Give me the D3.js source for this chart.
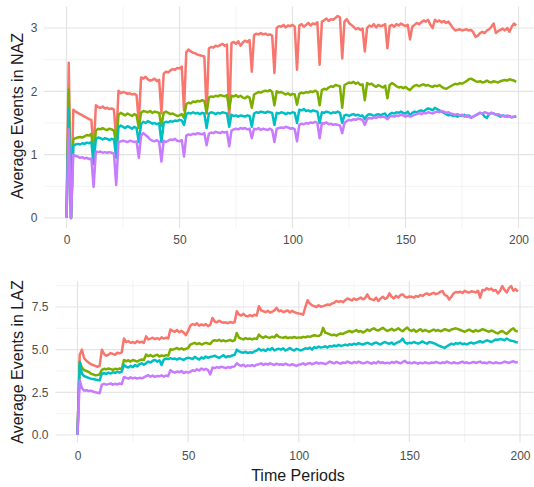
<!DOCTYPE html>
<html>
<head>
<meta charset="utf-8">
<script src="https://cdn.jsdelivr.net/npm/d3@7"></script>
<style>
  html, body { margin: 0; padding: 0; background: #fff; }
  svg { display: block; font-family: "Liberation Sans", Arial, sans-serif; }
</style>
</head>
<body>
<svg id="chart" width="534" height="487"></svg>
<script>
// Group colours (ggplot default hue palette, 4 levels)
const groupColors = ["#F8766D", "#7CAE00", "#00BFC4", "#C77CFF"];

// Tick values
const xTicks = [0, 50, 100, 150, 200];
const xMinor = [25, 75, 125, 175];
const nazTicks = [0, 1, 2, 3];
const nazMinor = [0.5, 1.5, 2.5];
const lazTicks = [0, 2.5, 5, 7.5];
const lazMinor = [1.25, 3.75, 6.25, 8.75];

// Average events in NAZ, one value per time period 0..199
const nazA = [
  0, 2.45, 0, 1.71, 1.68, 1.66, 1.64, 1.62, 1.60, 1.58,
  1.56, 1.55, 1.05, 1.78, 1.75, 1.74, 1.76, 1.73, 1.74, 1.72,
  1.73, 1.71, 1.22, 2.01, 1.97, 1.99, 1.98, 1.96, 1.97, 1.95,
  1.96, 1.94, 1.50, 2.22, 2.20, 2.23, 2.19, 2.17, 2.18, 2.20,
  2.16, 2.18, 1.65, 2.28, 2.31, 2.30, 2.33, 2.35, 2.34, 2.37,
  2.36, 2.39, 1.70, 2.62, 2.66, 2.63, 2.61, 2.60, 2.58, 2.57,
  2.56, 2.55, 1.65, 2.68, 2.70, 2.69, 2.72, 2.71, 2.73, 2.75,
  2.72, 2.74, 1.50, 2.76, 2.78, 2.75, 2.79, 2.72, 2.77, 2.80,
  2.78, 2.81, 2.31, 2.89, 2.91, 2.90, 2.92, 2.90, 2.91, 2.89,
  2.90, 2.88, 2.29, 3.00, 3.03, 3.02, 3.05, 3.01, 3.04, 3.03,
  3.05, 3.02, 2.34, 3.04, 3.06, 3.02, 3.05, 3.08, 3.04, 3.07,
  3.06, 3.09, 2.42, 3.10, 3.12, 3.15, 3.11, 3.14, 3.13, 3.16,
  3.19, 3.17, 2.52, 3.10, 3.14, 3.08, 3.05, 3.02, 2.98, 3.00,
  2.97, 2.99, 2.63, 3.00, 3.04, 3.02, 3.06, 3.01, 3.05, 3.03,
  3.04, 3.06, 2.68, 3.03, 3.05, 3.02, 3.06, 3.04, 3.07, 3.05,
  3.03, 3.05, 2.82, 3.02, 3.05, 3.08, 3.06, 3.09, 3.12, 3.10,
  3.13, 3.05, 3.00, 3.13, 3.10, 3.12, 3.09, 3.11, 3.08, 3.10,
  3.05, 3.00, 2.96, 2.97, 2.98, 2.96, 2.97, 2.98, 2.96, 2.97,
  2.93, 2.86, 2.88, 2.92, 2.94, 2.92, 2.96, 2.98, 3.02, 3.07,
  2.92, 2.95, 2.97, 2.99, 2.96, 3.00, 2.94, 3.02, 3.07, 3.04
];
const nazB = [
  0, 2.03, 0, 1.24, 1.26, 1.27, 1.28, 1.27, 1.29, 1.31,
  1.30, 1.33, 0.98, 1.38, 1.41, 1.40, 1.42, 1.40, 1.39, 1.41,
  1.40, 1.38, 1.15, 1.63, 1.66, 1.64, 1.62, 1.65, 1.63, 1.61,
  1.64, 1.62, 1.42, 1.66, 1.69, 1.68, 1.67, 1.69, 1.66, 1.68,
  1.67, 1.66, 1.45, 1.66, 1.68, 1.66, 1.64, 1.65, 1.63, 1.61,
  1.62, 1.64, 1.58, 1.80, 1.82, 1.81, 1.84, 1.83, 1.85, 1.84,
  1.86, 1.85, 1.66, 1.90, 1.92, 1.91, 1.93, 1.92, 1.94, 1.93,
  1.92, 1.94, 1.72, 1.93, 1.92, 1.94, 1.91, 1.93, 1.90, 1.89,
  1.92, 1.90, 1.74, 1.95, 1.97, 1.99, 1.98, 2.00, 2.01, 2.00,
  2.02, 1.99, 1.78, 2.00, 1.98, 1.99, 1.97, 1.95, 1.97, 1.94,
  1.96, 1.95, 1.79, 1.96, 1.98, 1.97, 1.99, 1.98, 2.00, 1.99,
  2.01, 1.99, 1.78, 2.02, 2.04, 2.03, 2.06, 2.08, 2.07, 2.10,
  2.09, 2.08, 1.74, 2.10, 2.12, 2.14, 2.13, 2.15, 2.12, 2.14,
  2.10, 2.11, 1.86, 2.13, 2.11, 2.12, 2.09, 2.07, 2.10, 2.08,
  2.06, 2.09, 1.89, 2.10, 2.13, 2.11, 2.08, 2.06, 2.07, 2.05,
  2.07, 2.04, 2.02, 2.06, 2.09, 2.10, 2.08, 2.10, 2.11, 2.09,
  2.10, 2.08, 2.07, 2.09, 2.08, 2.10, 2.07, 2.05, 2.04, 2.06,
  2.08, 2.10, 2.12, 2.11, 2.13, 2.12, 2.14, 2.16, 2.19, 2.20,
  2.18, 2.16, 2.15, 2.16, 2.14, 2.15, 2.17, 2.15, 2.14, 2.16,
  2.15, 2.14, 2.16, 2.17, 2.18, 2.17, 2.19, 2.18, 2.17, 2.15
];
const nazC = [
  0, 1.73, 0, 1.14, 1.16, 1.17, 1.16, 1.18, 1.17, 1.19,
  1.18, 1.20, 0.85, 1.25, 1.27, 1.26, 1.24, 1.26, 1.25, 1.23,
  1.25, 1.24, 0.95, 1.43, 1.46, 1.44, 1.42, 1.45, 1.43, 1.41,
  1.44, 1.42, 1.20, 1.48, 1.52, 1.50, 1.53, 1.51, 1.49, 1.50,
  1.48, 1.50, 1.20, 1.50, 1.52, 1.51, 1.53, 1.52, 1.54, 1.53,
  1.55, 1.54, 1.47, 1.64, 1.66, 1.65, 1.67, 1.65, 1.66, 1.64,
  1.66, 1.65, 1.42, 1.65, 1.67, 1.66, 1.64, 1.66, 1.65, 1.67,
  1.66, 1.65, 1.44, 1.63, 1.61, 1.62, 1.60, 1.62, 1.61, 1.60,
  1.62, 1.61, 1.44, 1.65, 1.67, 1.66, 1.68, 1.67, 1.66, 1.68,
  1.67, 1.66, 1.47, 1.66, 1.65, 1.67, 1.66, 1.64, 1.66, 1.65,
  1.67, 1.66, 1.50, 1.71, 1.70, 1.72, 1.69, 1.70, 1.68, 1.70,
  1.69, 1.68, 1.50, 1.67, 1.66, 1.68, 1.67, 1.65, 1.67, 1.66,
  1.68, 1.66, 1.50, 1.62, 1.63, 1.61, 1.63, 1.64, 1.62, 1.63,
  1.61, 1.62, 1.56, 1.62, 1.64, 1.63, 1.61, 1.63, 1.64, 1.62,
  1.64, 1.65, 1.58, 1.64, 1.66, 1.65, 1.67, 1.66, 1.68, 1.66,
  1.65, 1.68, 1.62, 1.66, 1.68, 1.67, 1.69, 1.70, 1.68, 1.71,
  1.73, 1.72, 1.70, 1.74, 1.72, 1.70, 1.68, 1.66, 1.64, 1.62,
  1.63, 1.61, 1.62, 1.60, 1.62, 1.61, 1.63, 1.60, 1.62, 1.59,
  1.60, 1.62, 1.64, 1.66, 1.65, 1.60, 1.58, 1.64, 1.66, 1.65,
  1.63, 1.62, 1.60, 1.62, 1.61, 1.60, 1.61, 1.59, 1.60, 1.60
];
const nazD = [
  0, 1.40, 0, 1.00, 0.98, 0.97, 0.95, 0.96, 0.94, 0.95,
  0.93, 0.94, 0.49, 1.05, 1.04, 1.05, 1.03, 1.04, 1.03, 1.04,
  1.03, 1.02, 0.52, 1.20, 1.21, 1.22, 1.21, 1.20, 1.22, 1.21,
  1.20, 1.21, 0.95, 1.30, 1.34, 1.31, 1.28, 1.24, 1.22, 1.21,
  1.23, 1.20, 0.89, 1.22, 1.20, 1.22, 1.24, 1.23, 1.25, 1.22,
  1.21, 1.23, 0.97, 1.30, 1.32, 1.31, 1.33, 1.32, 1.34, 1.33,
  1.32, 1.34, 1.15, 1.33, 1.35, 1.34, 1.36, 1.35, 1.34, 1.36,
  1.35, 1.36, 1.13, 1.38, 1.40, 1.41, 1.40, 1.42, 1.41, 1.42,
  1.40, 1.41, 1.26, 1.41, 1.40, 1.42, 1.39, 1.41, 1.40, 1.39,
  1.41, 1.39, 1.20, 1.41, 1.42, 1.43, 1.42, 1.44, 1.43, 1.41,
  1.42, 1.40, 1.21, 1.47, 1.49, 1.48, 1.50, 1.49, 1.51, 1.50,
  1.52, 1.50, 1.26, 1.50, 1.49, 1.51, 1.48, 1.49, 1.47, 1.48,
  1.47, 1.46, 1.34, 1.50, 1.53, 1.55, 1.54, 1.56, 1.55, 1.57,
  1.56, 1.55, 1.47, 1.56, 1.58, 1.57, 1.59, 1.58, 1.60, 1.59,
  1.60, 1.59, 1.56, 1.60, 1.61, 1.60, 1.62, 1.61, 1.63, 1.62,
  1.60, 1.62, 1.60, 1.61, 1.63, 1.64, 1.66, 1.64, 1.66, 1.65,
  1.67, 1.66, 1.65, 1.67, 1.68, 1.67, 1.69, 1.68, 1.66, 1.67,
  1.65, 1.64, 1.63, 1.64, 1.62, 1.63, 1.60, 1.62, 1.60, 1.58,
  1.60, 1.62, 1.64, 1.66, 1.65, 1.67, 1.66, 1.64, 1.66, 1.65,
  1.63, 1.64, 1.62, 1.61, 1.60, 1.62, 1.60, 1.59, 1.60, 1.61
];

// Average events in LAZ, one value per time period 0..199
const lazA = [
  0, 4.70, 5.00, 4.50, 4.35, 4.25, 4.15, 4.10, 4.05, 4.00,
  4.05, 5.00, 4.75, 4.65, 4.70, 4.80, 4.75, 4.70, 4.82, 4.78,
  4.85, 5.65, 5.45, 5.50, 5.40, 5.45, 5.38, 5.50, 5.42, 5.47,
  5.40, 5.78, 5.60, 5.65, 5.70, 5.62, 5.68, 5.60, 5.72, 5.65,
  5.70, 5.66, 6.18, 6.10, 6.05, 6.15, 6.02, 6.10, 6.00, 5.85,
  6.10, 6.40, 6.50, 6.45, 6.55, 6.40, 6.48, 6.42, 6.50, 6.38,
  6.45, 6.86, 6.65, 6.60, 6.70, 6.62, 6.58, 6.60, 6.55, 6.62,
  6.58, 6.60, 7.25, 7.05, 7.00, 7.10, 6.98, 6.95, 7.02, 6.96,
  7.05, 7.00, 7.55, 7.30, 7.25, 7.20, 7.28, 7.18, 7.22, 7.30,
  7.45, 7.25, 7.30, 7.20, 7.25, 7.30, 7.18, 7.28, 7.20, 7.15,
  7.12, 7.10, 7.05, 7.50, 7.90, 7.70, 7.60, 7.55, 7.50, 7.60,
  7.52, 7.55, 7.60, 7.65, 7.62, 7.70, 7.75, 7.85, 7.80, 7.84,
  7.78, 7.90, 8.00, 7.95, 7.88, 8.00, 7.92, 7.98, 8.05, 7.95,
  8.02, 8.24, 8.00, 7.95, 7.90, 8.05, 7.85, 8.00, 8.10, 7.98,
  8.05, 8.30, 8.10, 8.00, 8.15, 8.05, 8.20, 8.24, 8.10, 8.05,
  8.12, 8.10, 8.05, 8.14, 8.10, 8.20, 8.15, 8.25, 8.30, 8.20,
  8.28, 8.33, 8.25, 8.30, 8.40, 8.43, 8.20, 8.15, 7.94, 8.10,
  8.30, 8.38, 8.35, 8.40, 8.32, 8.45, 8.38, 8.35, 8.42, 8.40,
  8.35, 8.45, 8.05, 8.50, 8.48, 8.60, 8.52, 8.58, 8.45, 8.50,
  8.30, 8.45, 8.73, 8.50, 8.35, 8.60, 8.73, 8.45, 8.55, 8.40
];
const lazB = [
  0, 4.30, 3.95, 3.80, 3.75, 3.70, 3.60, 3.55, 3.50, 3.52,
  3.55, 3.82, 3.88, 3.85, 3.90, 3.86, 3.82, 3.88, 3.85, 3.90,
  3.87, 4.40, 4.32, 4.38, 4.30, 4.40, 4.35, 4.30, 4.38, 4.42,
  4.40, 4.72, 4.62, 4.68, 4.60, 4.65, 4.70, 4.60, 4.66, 4.62,
  4.68, 4.65, 5.02, 5.00, 5.05, 5.10, 5.02, 5.08, 5.00, 5.05,
  5.10, 5.30, 5.35, 5.40, 5.32, 5.38, 5.30, 5.35, 5.40, 5.36,
  5.33, 5.50, 5.55, 5.52, 5.58, 5.50, 5.55, 5.49, 5.53, 5.57,
  5.50, 5.55, 5.98, 5.70, 5.65, 5.60, 5.68, 5.62, 5.65, 5.60,
  5.66, 5.62, 5.88, 5.75, 5.70, 5.78, 5.72, 5.70, 5.76, 5.72,
  5.88, 5.75, 5.72, 5.70, 5.75, 5.68, 5.72, 5.70, 5.74, 5.69,
  5.72, 5.70, 5.75, 5.72, 5.78, 5.75, 5.80, 5.85, 5.82, 5.80,
  5.88, 6.28, 6.00, 5.95, 5.90, 5.85, 5.88, 5.82, 5.90, 5.95,
  5.92, 6.00, 6.05, 6.10, 6.02, 6.08, 6.15, 6.05, 6.10, 6.00,
  6.08, 6.18, 6.10, 6.20, 6.25, 6.15, 6.12, 6.20, 6.28, 6.18,
  6.10, 6.15, 6.22, 6.12, 6.18, 6.25, 6.15, 6.08, 6.20, 6.30,
  6.15, 6.10, 6.18, 6.05, 6.12, 6.20, 6.08, 6.15, 6.10, 6.05,
  6.12, 6.18, 6.10, 6.15, 6.08, 6.12, 6.20, 6.15, 6.10, 6.18,
  6.22, 6.25, 6.20, 6.15, 6.10, 6.05, 6.12, 6.18, 6.10, 6.05,
  6.15, 6.08, 6.12, 6.20, 6.15, 6.10, 6.05, 6.12, 6.08, 6.00,
  5.95, 6.05, 6.10, 6.00, 5.92, 6.05, 6.18, 6.25, 6.10, 6.08
];
const lazC = [
  0, 4.25, 3.60, 3.45, 3.40, 3.35, 3.30, 3.28, 3.25, 3.22,
  3.20, 3.60, 3.62, 3.58, 3.65, 3.60, 3.68, 3.64, 3.70, 3.66,
  3.72, 4.10, 4.00, 3.95, 4.05, 3.98, 4.10, 4.02, 4.15, 4.20,
  4.12, 4.20, 4.30, 4.25, 4.35, 4.40, 4.30, 4.38, 4.10, 4.42,
  4.48, 4.45, 4.50, 4.45, 4.48, 4.42, 4.50, 4.45, 4.40, 4.48,
  4.52, 4.50, 4.45, 4.58, 4.50, 4.42, 4.55, 4.48, 4.60, 4.52,
  4.58, 4.60, 4.65, 4.58, 4.52, 4.60, 4.68, 4.55, 4.62, 4.60,
  4.66, 4.70, 5.00, 4.90, 4.85, 4.82, 4.88, 4.80, 4.85, 4.82,
  4.90, 4.95, 5.05, 4.95, 5.00, 4.92, 5.05, 4.98, 5.10, 4.95,
  5.02, 5.05, 5.00, 5.08, 4.95, 5.02, 5.10, 5.00, 4.95, 5.05,
  5.00, 4.95, 5.02, 5.08, 5.05, 5.12, 5.00, 5.15, 5.10, 5.18,
  5.12, 5.15, 5.20, 5.12, 5.22, 5.18, 5.25, 5.20, 5.28, 5.22,
  5.25, 5.30, 5.25, 5.32, 5.28, 5.35, 5.30, 5.38, 5.33, 5.30,
  5.36, 5.40, 5.35, 5.30, 5.38, 5.42, 5.35, 5.30, 5.40, 5.45,
  5.38, 5.35, 5.42, 5.30, 5.38, 5.45, 5.50, 5.65, 5.42, 5.35,
  5.40, 5.38, 5.45, 5.40, 5.35, 5.42, 5.48, 5.40, 5.35, 5.45,
  5.42, 5.38, 5.32, 5.25, 5.20, 5.15, 5.10, 5.20, 5.28, 5.35,
  5.30, 5.38, 5.35, 5.40, 5.32, 5.36, 5.30, 5.38, 5.42, 5.35,
  5.40, 5.45, 5.50, 5.42, 5.48, 5.55, 5.50, 5.45, 5.52, 5.60,
  5.58, 5.62, 5.60, 5.55, 5.65, 5.58, 5.52, 5.50, 5.45, 5.42
];
const lazD = [
  0, 3.20, 2.75, 2.60, 2.62, 2.58, 2.60, 2.55, 2.50, 2.48,
  2.45, 2.95, 3.00, 2.95, 2.98, 3.02, 2.95, 3.00, 2.96, 3.02,
  2.98, 3.40, 3.35, 3.30, 3.38, 3.32, 3.36, 3.30, 3.35, 3.32,
  3.38, 3.45, 3.50, 3.42, 3.48, 3.40, 3.46, 3.44, 3.50, 3.42,
  3.48, 3.45, 3.80, 3.70, 3.65, 3.72, 3.68, 3.75, 3.63, 3.70,
  3.65, 3.70, 3.80, 3.75, 3.85, 3.78, 3.90, 3.82, 3.88, 3.80,
  3.55, 3.95, 3.92, 3.98, 3.94, 4.00, 3.96, 3.92, 3.98, 3.94,
  4.00, 4.02, 4.20, 4.10, 4.05, 4.12, 4.02, 4.08, 4.05, 4.10,
  4.04, 4.12, 4.15, 4.20, 4.10, 4.18, 4.12, 4.20, 4.15, 4.10,
  4.18, 4.12, 4.15, 4.10, 4.18, 4.12, 4.08, 4.15, 4.10, 4.05,
  4.12, 4.15, 4.20, 4.12, 4.18, 4.22, 4.15, 4.20, 4.25, 4.18,
  4.22, 4.20, 4.15, 4.22, 4.30, 4.25, 4.20, 4.28, 4.22, 4.18,
  4.25, 4.22, 4.30, 4.25, 4.20, 4.28, 4.22, 4.30, 4.25, 4.20,
  4.22, 4.28, 4.22, 4.18, 4.25, 4.20, 4.30, 4.22, 4.26, 4.20,
  4.24, 4.20, 4.28, 4.22, 4.30, 4.25, 4.20, 4.28, 4.35, 4.22,
  4.25, 4.20, 4.26, 4.22, 4.18, 4.24, 4.20, 4.26, 4.22, 4.20,
  4.25, 4.22, 4.28, 4.24, 4.20, 4.26, 4.22, 4.30, 4.24, 4.20,
  4.26, 4.22, 4.20, 4.25, 4.30, 4.22, 4.26, 4.20, 4.24, 4.28,
  4.22, 4.26, 4.30, 4.22, 4.25, 4.20, 4.28, 4.24, 4.20, 4.26,
  4.22, 4.20, 4.24, 4.30, 4.26, 4.22, 4.28, 4.32, 4.25, 4.28
];

const svg = d3.select("#chart");
svg.append("rect").attr("width", 534).attr("height", 487).attr("fill", "#fff");

function drawPanel(cfg) {
  const x = d3.scaleLinear().domain([0, 200]).range(cfg.xRange);
  const y = d3.scaleLinear().domain(cfg.yDomain).range(cfg.yRange);
  const left = x(-9.95), right = x(208.95);
  const top = y(cfg.yLimits[1]), bottom = y(cfg.yLimits[0]);
  const g = svg.append("g");

  // minor grid
  g.selectAll(".vminor").data(cfg.xMinor).join("line")
    .attr("x1", d => x(d)).attr("x2", d => x(d)).attr("y1", top).attr("y2", bottom)
    .attr("stroke", "#eeeeee").attr("stroke-width", 0.7);
  g.selectAll(".hminor").data(cfg.yMinor).join("line")
    .attr("x1", left).attr("x2", right).attr("y1", d => y(d)).attr("y2", d => y(d))
    .attr("stroke", "#eeeeee").attr("stroke-width", 0.7);
  // major grid
  g.selectAll(".vmajor").data(cfg.xTicks).join("line")
    .attr("x1", d => x(d)).attr("x2", d => x(d)).attr("y1", top).attr("y2", bottom)
    .attr("stroke", "#e4e4e4").attr("stroke-width", 1.2);
  g.selectAll(".hmajor").data(cfg.yTicks).join("line")
    .attr("x1", left).attr("x2", right).attr("y1", d => y(d)).attr("y2", d => y(d))
    .attr("stroke", "#e4e4e4").attr("stroke-width", 1.2);

  // series lines
  const line = d3.line().x((d, i) => x(i)).y(d => y(d));
  cfg.series.forEach((values, k) => {
    g.append("path").datum(values)
      .attr("d", line)
      .attr("fill", "none")
      .attr("stroke", groupColors[k])
      .attr("stroke-width", 2.5)
      .attr("stroke-linejoin", "round")
      .attr("stroke-linecap", "butt");
  });

  // axes (text only, as in a minimal theme)
  const xAxis = g.append("g")
    .attr("transform", `translate(0,${cfg.xAxisY})`)
    .call(d3.axisBottom(x).tickValues(cfg.xTicks).tickSize(0).tickPadding(0).tickFormat(d3.format("d")));
  const yAxis = g.append("g")
    .attr("transform", `translate(${cfg.yAxisX},0)`)
    .call(d3.axisLeft(y).tickValues(cfg.yTicks).tickSize(0).tickPadding(0).tickFormat(cfg.yFormat));
  [xAxis, yAxis].forEach(a => {
    a.select(".domain").remove();
    a.selectAll("text")
      .attr("fill", "#4d4d4d")
      .style("font-size", "12px")
      .style("font-family", "'Liberation Sans', Arial, sans-serif");
  });

  // y title
  g.append("text")
    .attr("transform", `translate(${cfg.titleX},${cfg.titleY}) rotate(-90)`)
    .attr("text-anchor", "middle")
    .attr("dominant-baseline", "central")
    .attr("fill", "#1a1a1a")
    .style("font-size", "16px")
    .text(cfg.title);
  return { x, y };
}

drawPanel({
  xRange: [66.5, 518.5],
  yDomain: [0, 3], yRange: [218, 28],
  yLimits: [-0.16, 3.34],
  xTicks: xTicks, xMinor: xMinor,
  yTicks: nazTicks, yMinor: nazMinor,
  yFormat: d3.format("d"),
  series: [nazA, nazB, nazC, nazD],
  xAxisY: 235, yAxisX: 37.5,
  title: "Average Events in NAZ", titleX: 17, titleY: 116
});

drawPanel({
  xRange: [77.5, 520],
  yDomain: [0, 7.5], yRange: [435, 307],
  yLimits: [-0.43, 9.03],
  xTicks: xTicks, xMinor: xMinor,
  yTicks: lazTicks, yMinor: lazMinor,
  yFormat: d3.format(".1f"),
  series: [lazA, lazB, lazC, lazD],
  xAxisY: 451, yAxisX: 48.5,
  title: "Average Events in LAZ", titleX: 17, titleY: 362
});

svg.append("text")
  .attr("x", 298).attr("y", 475)
  .attr("text-anchor", "middle")
  .attr("dominant-baseline", "central")
  .attr("fill", "#1a1a1a")
  .style("font-size", "16px")
  .text("Time Periods");
</script>
</body>
</html>
